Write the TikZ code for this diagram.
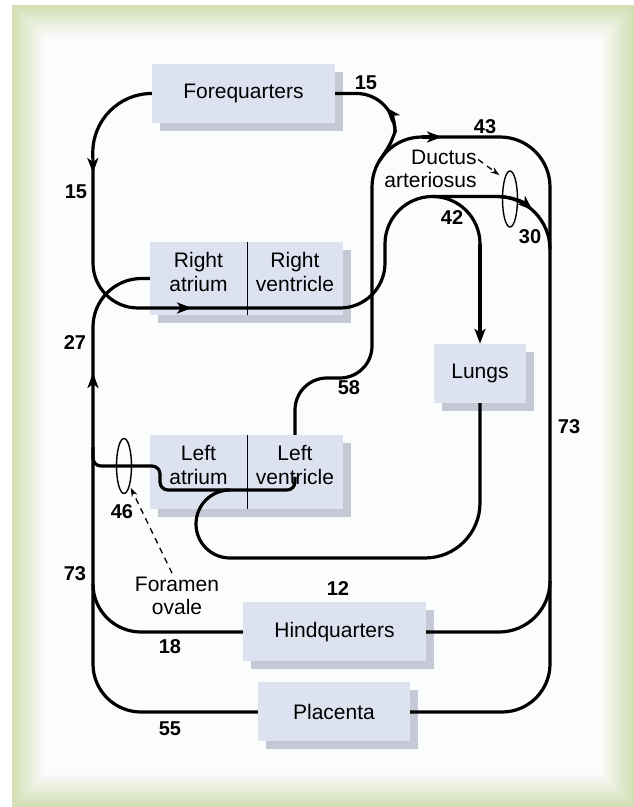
\documentclass[tikz,border=0pt]{standalone}
\usepackage{fontspec}
\setmainfont{Liberation Sans}
\usetikzlibrary{arrows.meta,shapes.geometric,shadows}

\definecolor{framegreen}{RGB}{210,222,178}
\definecolor{panel}{RGB}{251,252,253}
\definecolor{boxfill}{RGB}{221,226,240}
\definecolor{boxshade}{RGB}{196,201,213}

\tikzset{
  organ/.style={fill=boxfill,inner sep=0pt,align=center,
    font=\fontsize{21}{24}\selectfont,
    drop shadow={shadow xshift=8pt,shadow yshift=-8pt,fill=boxshade,opacity=1}},
  chamber/.style={organ,minimum height=73pt,text depth=14pt},
  vessel/.style={line width=3.2pt},
  flow/.style={font=\bfseries\fontsize{20}{20}\selectfont},
  valve/.style={draw,ellipse,line width=1.4pt,inner sep=0pt,minimum width=15pt,minimum height=56pt},
  caption/.style={font=\fontsize{21}{23}\selectfont},
  pointer/.style={dash pattern=on 6pt off 5pt,line width=1.3pt,-{Stealth[length=9pt,width=6pt]}},
}

\begin{document}
\begin{tikzpicture}[x=1pt,y=1pt,>={Stealth[length=15pt,width=11pt,inset=4pt]},line join=round]
  \useasboundingbox (0,0) rectangle (634,807);
  % Frame with a soft inner edge.
  \fill[white] (0,0) rectangle (634,807);
  \foreach \d [evaluate=\d as \p using int(100-3*\d)] in {0,1,...,33}
    {\fill[framegreen!\p!panel] (12+\d,\d) rectangle (634-\d,802-\d);}
  % Organs.
  \node[organ,minimum width=183pt,minimum height=59pt] (fore) at (243.5,713.5) {Forequarters};
  \node[chamber,minimum width=97pt] (RA) at (198.5,528.5) {Right\\atrium};
  \node[chamber,minimum width=96pt] (RV) at (295,528.5) {Right\\ventricle};
  \node[chamber,minimum width=97pt,minimum height=74pt] (LA) at (198.5,335) {Left\\atrium};
  \node[chamber,minimum width=96pt,minimum height=74pt] (LV) at (295,335) {Left\\ventricle};
  \node[organ,minimum width=92pt,minimum height=59pt] (lungs) at (480,433.5) {Lungs};
  \node[organ,minimum width=183pt,minimum height=59pt] (hind) at (334.5,175) {Hindquarters};
  \node[organ,minimum width=152pt,minimum height=59pt] (plac) at (334,95) {Placenta};
  \draw[line width=1.4pt] (RA.north east) -- (RA.south east);
  \draw[line width=1.4pt] (LA.north east) -- (LA.south east);
  % Forequarters back through the right heart.
  \draw[vessel,->] (fore.west) arc[start angle=90,end angle=180,radius=59] -- (93,634);
  \draw[vessel,->] (93,640) -- (93,544) arc[start angle=180,end angle=270,radius=45] -- (192,499);
  \draw[vessel] (186,499) -- (340,499) arc[start angle=270,end angle=360,radius=45]
    -- (385,563) arc[start angle=180,end angle=0,radius=47.5] -- (480,563);
  \draw[vessel,->] (480,563) -- (lungs.north);
  % Ductus arteriosus.
  \draw[vessel] (432.5,610.5) -- (497,610.5) arc[start angle=90,end angle=0,radius=53];
  \draw[vessel,->] (497,610.5) arc[start angle=90,end angle=48,radius=53];
  % Aorta, from the left ventricle.
  \draw[vessel] (LV.north) -- (295,397) arc[start angle=180,end angle=90,radius=32]
    -- (340,429) arc[start angle=270,end angle=360,radius=32]
    -- (372,620) arc[start angle=180,end angle=90,radius=50]
    -- (500,670) arc[start angle=90,end angle=0,radius=50]
    -- (550,143) arc[start angle=0,end angle=-90,radius=48] -- (plac.east);
  \draw[vessel,->] (422,670) -- (442,670);
  \draw[vessel] (550,226) arc[start angle=0,end angle=-90,radius=51] -- (hind.east);
  \draw[vessel] (378.7,645) .. controls (390,662) .. (395,675)
    arc[start angle=0,end angle=90,radius=38.5] -- (fore.east);
  \draw[vessel,->] (395,675) arc[start angle=0,end angle=40,radius=38.5];
  % Return from placenta and hindquarters.
  \draw[vessel,->] (plac.west) -- (141,95) arc[start angle=270,end angle=180,radius=48] -- (93,434);
  \draw[vessel] (93,428) -- (93,480) arc[start angle=180,end angle=90,radius=48.5] -- (RA.west);
  \draw[vessel] (hind.west) -- (141,175) arc[start angle=270,end angle=180,radius=48];
  \draw[vessel,rounded corners=8pt] (93,360) -- (93,341) -- (160,341) -- (160,317) -- (295,317) -- (295,330);
  % Lungs back to the left heart.
  \draw[vessel] (lungs.south) -- (480,304) arc[start angle=0,end angle=-90,radius=55]
    -- (230,249) arc[start angle=270,end angle=90,radius=34];
  % Shunts.
  \node[valve] (da) at (510,608) {};
  \node[valve,minimum height=55pt] (fo) at (124,341) {};
  \node[caption,align=right] (dal) at (430.5,638.5) {Ductus\\arteriosus};
  \node[caption,align=center] (fol) at (177,211.5) {Foramen\\ovale};
  \draw[pointer,shorten >=6pt] ([shift={(-2pt,9pt)}]dal.east) -- (da.north west);
  \draw[pointer,shorten >=2pt] ([xshift=-5pt]fol.north) -- (fo.south east);
  % Flows.
  \node[flow] (f15a) at (366,724) {15};
  \node[flow] (f15b) at (76,615) {15};
  \node[flow] (f43) at (485,680) {43};
  \node[flow] (f42) at (452,589) {42};
  \node[flow] (f30) at (530,570) {30};
  \node[flow] (f27) at (75,464) {27};
  \node[flow] (f58) at (349,419) {58};
  \node[flow] (f73a) at (569,380) {73};
  \node[flow] (f46) at (122,295) {46};
  \node[flow] (f73b) at (75,233) {73};
  \node[flow] (f12) at (338,218) {12};
  \node[flow] (f18) at (170,160) {18};
  \node[flow] (f55) at (170,78) {55};
\end{tikzpicture}
\end{document}
